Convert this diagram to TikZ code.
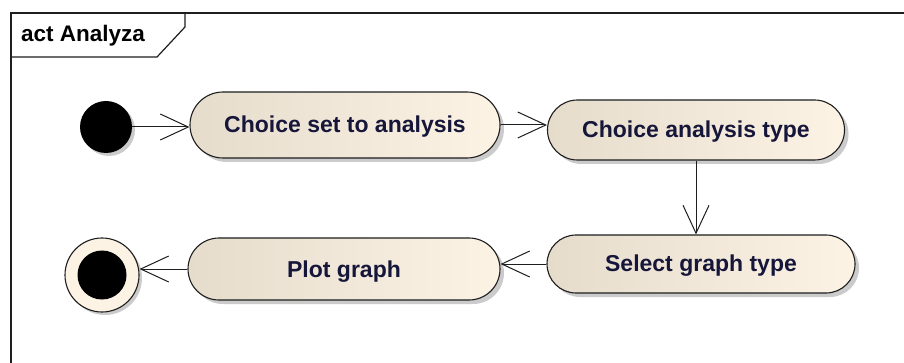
\documentclass[tikz,border=0pt]{standalone}
\usepackage{fontspec}
\setmainfont{Liberation Sans}
\usetikzlibrary{shapes.misc,arrows.meta,shadows}
\definecolor{actL}{RGB}{230,220,204}
\definecolor{actR}{RGB}{252,243,229}
\definecolor{txt}{RGB}{22,22,58}
\definecolor{ln}{RGB}{30,30,30}
\tikzset{
 act/.style={rounded rectangle, draw=ln, line width=1.1pt, left color=actL, right color=actR,
   inner sep=0pt, text height=16pt, text depth=0pt, font=\bfseries\fontsize{23}{26}\selectfont, text=txt,
   drop shadow={shadow xshift=4pt, shadow yshift=-4pt, fill=black!40, opacity=0.5}},
 flow/.style={draw=ln, line width=1pt, -{Straight Barb[length=28pt,width=26pt,line width=1pt]}},
 frm/.style={draw=ln, line width=1.2pt},
}
\begin{document}
\begin{tikzpicture}[x=1pt,y=-1pt]
\useasboundingbox (0,0) rectangle (904,363);
\fill[white] (0,0) rectangle (904,363);
% frame
\draw[frm] (11,380) -- (11,13) -- (920,13);
\draw[frm] (11,57) -- (157,57) -- (185,27) -- (185,13);
\node[anchor=west, font=\bfseries\fontsize{22.5}{25}\selectfont, text=black, inner sep=0pt] (title) at (21,36) {act Analyza};
% nodes
\node[circle, fill=black, minimum size=52pt, inner sep=0pt,
  drop shadow={shadow xshift=3pt, shadow yshift=-3pt, fill=black!40, opacity=0.5}] (init) at (106,127) {};
\node[act, minimum width=310pt, minimum height=66pt] (a1) at (345,125) {Choice set to analysis};
\node[act, minimum width=297pt, minimum height=60pt] (a2) at (696,130) {Choice analysis type};
\node[act, minimum width=308pt, minimum height=58pt] (a3) at (701,264) {Select graph type};
\node[act, minimum width=312pt, minimum height=62pt] (a4) at (344,269) {Plot graph};
\node[circle, draw=ln, line width=1.1pt, fill=actR, minimum size=74pt, inner sep=0pt,
  drop shadow={shadow xshift=3pt, shadow yshift=-3pt, fill=black!40, opacity=0.5}] (fin) at (102,275) {};
\node[circle, fill=black, minimum size=49pt, inner sep=0pt] (finin) at (fin) {};
% flows
\draw[flow] (init) -- (init -| a1.west);
\draw[flow] (a1.east) -- (a1.east -| a2.west);
\draw[flow] (a2.south) -- (a2.south |- a3.north);
\draw[flow] (a3.west) -- (a3.west -| a4.east);
\draw[flow] (a4.west) -- (a4.west -| fin.east);
\end{tikzpicture}
\end{document}
